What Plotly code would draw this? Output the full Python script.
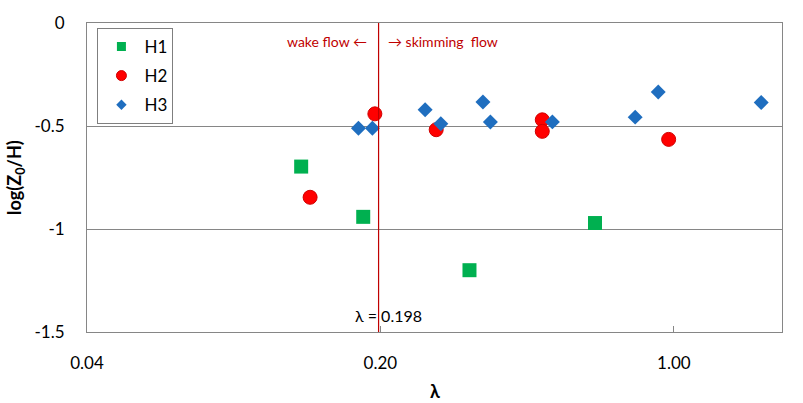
import math
import plotly.graph_objects as go

h1_x = [0.1295, 0.182, 0.326, 0.649]
h1_y = [-0.697, -0.941, -1.20, -0.971]
h2_x = [0.136, 0.194, 0.2716, 0.486, 0.486, 0.972]
h2_y = [-0.846, -0.441, -0.518, -0.470, -0.526, -0.565]
h3_x = [0.1773, 0.1914, 0.2556, 0.2786, 0.351, 0.3656, 0.5137, 0.809, 0.918, 1.615]
h3_y = [-0.511, -0.511, -0.421, -0.489, -0.384, -0.481, -0.480, -0.457, -0.335, -0.386]
lambda_c = 0.198
x_ticks = [0.04, 0.20, 1.00]
x_tick_text = ["0.04", "0.20", "1.00"]
y_ticks = [0, -0.5, -1, -1.5]
y_tick_text = ["0", "-0.5", "-1", "-1.5"]

FONT = "Lato, 'Open Sans', sans-serif"

series = [
    ("H1", h1_x, h1_y, "square", 14, 9, "#00B050", None),
    ("H2", h2_x, h2_y, "circle", 14, 10, "#FF0000", "#D00000"),
    ("H3", h3_x, h3_y, "diamond", 11.5, 8, "#1F6EBF", None),
]

fig = go.Figure()
for i, (name, xs, ys, sym, size, lsize, col, lcol) in enumerate(series):
    line = dict(color=lcol, width=1) if lcol else dict(width=0)
    fig.add_trace(go.Scatter(x=xs, y=ys, mode="markers", name=name, showlegend=False,
                             marker=dict(symbol=sym, size=size, color=col, line=line)))
    fig.add_trace(go.Scatter(x=[None], y=[None], mode="markers", name=name,
                             legendgroup="g%d" % i, showlegend=True,
                             marker=dict(symbol=sym, size=lsize, color=col, line=line)))

fig.add_shape(type="line", x0=lambda_c, x1=lambda_c, y0=0, y1=1, xref="x", yref="paper",
              line=dict(color="#C00000", width=1.2))

lx = math.log10(lambda_c)
fig.add_annotation(x=lx, y=1, xref="x", yref="paper", xshift=-10, yshift=-18,
                   text="wake flow \u2190", showarrow=False, xanchor="right", yanchor="middle",
                   font=dict(family=FONT, size=14, color="#C00000"))
fig.add_annotation(x=lx, y=1, xref="x", yref="paper", xshift=7, yshift=-18,
                   text="\u2192 skimming  flow", showarrow=False, xanchor="left", yanchor="middle",
                   font=dict(family=FONT, size=14, color="#C00000"))
fig.add_annotation(x=lx, y=0, xref="x", yref="paper", xshift=-26, yshift=17,
                   text="\u03bb = 0.198", showarrow=False, xanchor="left", yanchor="middle",
                   font=dict(family=FONT, size=16, color="#000000"))
fig.add_annotation(x=0.5, y=-0.19, xref="paper", yref="paper", text="<b>\u03bb</b>",
                   showarrow=False, xanchor="center", yanchor="middle",
                   font=dict(family=FONT, size=18, color="#000000"))
fig.add_annotation(x=-0.103, y=0.5, xref="paper", yref="paper", textangle=-90,
                   text="<b>log(Z<sub>0</sub>/H)</b>", showarrow=False,
                   xanchor="center", yanchor="middle",
                   font=dict(family=FONT, size=18, color="#000000"))

fig.update_layout(
    width=803, height=403,
    margin=dict(l=87, r=21, t=17, b=71),
    paper_bgcolor="white", plot_bgcolor="white",
    font=dict(family=FONT, size=16, color="#000000"),
    showlegend=True,
    legend=dict(x=0.015, y=0.984, xanchor="left", yanchor="top",
                bordercolor="#7f7f7f", borderwidth=1, bgcolor="white",
                font=dict(family=FONT, size=17), tracegroupgap=4,
                itemwidth=36),
    xaxis=dict(type="log", range=[-1.39794, 0.2577], tickvals=x_ticks, ticktext=x_tick_text,
               showgrid=False, zeroline=False, showline=True, linecolor="#868686",
               linewidth=1, mirror=True, ticks="inside", ticklen=6, tickcolor="#868686",
               ticklabelstandoff=16, tickfont=dict(family=FONT, size=17)),
    yaxis=dict(range=[-1.5, 0], tickvals=y_ticks, ticktext=y_tick_text,
               showgrid=True, gridcolor="#868686", gridwidth=1, zeroline=False,
               showline=True, linecolor="#868686", linewidth=1, mirror=True,
               ticks="", ticklabelstandoff=18, tickfont=dict(family=FONT, size=17)),
)

fig.write_html("out.html")
